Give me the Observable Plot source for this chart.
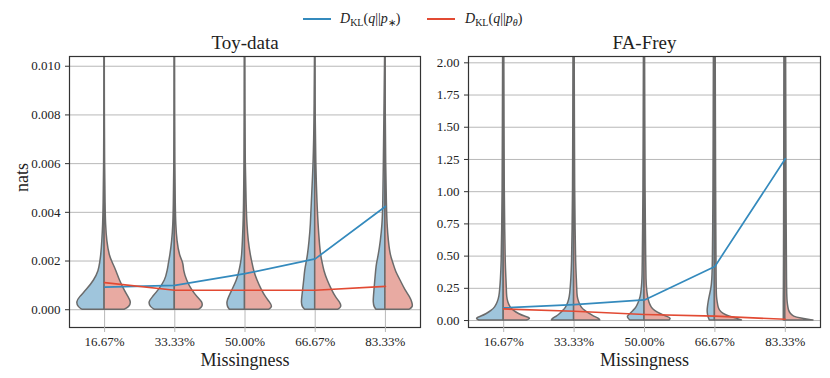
<!DOCTYPE html>
<html><head><meta charset="utf-8">
<script src="https://cdn.jsdelivr.net/npm/d3@7"></script>
<script src="https://cdn.jsdelivr.net/npm/@observablehq/plot@0.6"></script>
<style>
body{margin:0;background:#fff;font-family:"Liberation Serif",serif;}
#wrap{position:relative;width:830px;height:378px;overflow:hidden;}
#wrap svg{position:absolute;top:0;}
#wrap svg text{font-family:"Liberation Serif",serif !important;}
.leg-line{position:absolute;height:2px;width:28px;}
.leg-text{position:absolute;font-size:14px;line-height:14px;white-space:nowrap;color:#222;}
.leg-text sub{font-size:10px;font-style:normal;vertical-align:-3px;line-height:0;}
</style></head>
<body><div id="wrap"></div>
<script>
// ---------- data ----------
const categories = ["16.67%", "33.33%", "50.00%", "66.67%", "83.33%"];
const seriesNames = ["D_KL(q||p*)", "D_KL(q||pθ)"];

// Toy-data: mean lines
const toyMeanStar  = [0.00093, 0.00100, 0.00148, 0.00209, 0.00424];
const toyMeanTheta = [0.00111, 0.00080, 0.00080, 0.00080, 0.00096];
// FA-Frey: mean lines
const freyMeanStar  = [0.099, 0.124, 0.160, 0.420, 1.255];
const freyMeanTheta = [0.090, 0.072, 0.047, 0.034, 0.010];

// density profiles (relative, max ~1) read at these value levels
const toyLevels = [0, 0.0001, 0.0003, 0.0005, 0.0008, 0.0012, 0.0016, 0.0019, 0.0022, 0.0028, 0.0035, 0.0042, 0.006, 0.008, 0.0105];
const toyStarDensity = [
  [0.79,0.93,1.00,0.89,0.64,0.36,0.20,0.16,0.12,0.08,0.05,0.035,0.015,0.008,0.004],
  [0.71,0.86,0.93,0.79,0.57,0.33,0.25,0.21,0.16,0.09,0.05,0.035,0.015,0.008,0.004],
  [0.54,0.61,0.64,0.57,0.45,0.28,0.19,0.14,0.10,0.075,0.05,0.035,0.015,0.008,0.004],
  [0.36,0.45,0.48,0.46,0.43,0.39,0.36,0.31,0.26,0.20,0.15,0.13,0.05,0.02,0.006],
  [0.32,0.39,0.42,0.41,0.39,0.36,0.33,0.30,0.24,0.16,0.10,0.075,0.055,0.035,0.01]
];
const toyThetaDensity = [
  [0.71,0.89,0.96,0.86,0.71,0.54,0.42,0.30,0.18,0.09,0.05,0.035,0.015,0.008,0.004],
  [0.86,1.00,1.00,0.82,0.61,0.43,0.32,0.32,0.18,0.09,0.05,0.035,0.015,0.008,0.004],
  [0.86,1.00,0.89,0.75,0.60,0.44,0.32,0.27,0.21,0.13,0.085,0.06,0.025,0.012,0.004],
  [0.82,0.96,0.89,0.74,0.60,0.44,0.32,0.27,0.21,0.16,0.12,0.085,0.035,0.015,0.004],
  [0.86,1.00,0.96,0.89,0.71,0.54,0.36,0.29,0.19,0.12,0.075,0.055,0.025,0.012,0.004]
];
const freyLevels = [0, 0.015, 0.03, 0.05, 0.075, 0.10, 0.14, 0.18, 0.25, 0.31, 0.44, 0.7, 1.0, 1.5, 2.05];
const freyStarDensity = [
  [0.86,1.00,0.79,0.60,0.43,0.30,0.21,0.15,0.12,0.10,0.07,0.054,0.036,0.029,0.021],
  [0.79,0.75,0.61,0.50,0.38,0.28,0.20,0.15,0.12,0.10,0.07,0.054,0.036,0.029,0.021],
  [0.50,0.57,0.61,0.50,0.39,0.28,0.20,0.13,0.093,0.071,0.061,0.05,0.036,0.029,0.021],
  [0.18,0.21,0.23,0.25,0.26,0.25,0.225,0.19,0.12,0.09,0.071,0.061,0.05,0.043,0.036],
  [0.054,0.054,0.054,0.054,0.054,0.054,0.054,0.054,0.05,0.05,0.046,0.043,0.039,0.036,0.032]
];
const freyThetaDensity = [
  [0.82,1.00,0.75,0.54,0.36,0.24,0.16,0.12,0.11,0.10,0.07,0.054,0.036,0.029,0.021],
  [0.93,0.89,0.71,0.56,0.39,0.26,0.18,0.12,0.11,0.10,0.07,0.054,0.036,0.029,0.021],
  [0.89,0.96,0.79,0.57,0.36,0.25,0.17,0.125,0.086,0.071,0.061,0.05,0.036,0.029,0.021],
  [0.96,0.79,0.50,0.30,0.18,0.13,0.10,0.071,0.064,0.061,0.057,0.05,0.043,0.036,0.029],
  [1.00,0.54,0.29,0.20,0.13,0.11,0.082,0.071,0.064,0.061,0.057,0.05,0.043,0.036,0.029]
];
const toyTicks  = [0, 0.002, 0.004, 0.006, 0.008, 0.010];
const freyTicks = [0, 0.25, 0.5, 0.75, 1.0, 1.25, 1.5, 1.75, 2.0];

// ---------- styling ----------
const BLUE = "#348ABD", RED = "#E24A33";
const BLUE_FILL = "#9fc5dc", RED_FILL = "#e8aaa2";
const EDGE = "#6b6b6b", GRID = "#b8b8b8";
const FONT = "Liberation Serif, serif";
const HALF = 0.4; // half violin width in category units

function violinRows(levels, dens, side) {
  const rows = [];
  dens.forEach((arr, i) => arr.forEach((d, j) =>
    rows.push({id: side + "-" + i, c: i, v: levels[j], xo: i + side * d * HALF})));
  return rows;
}

function panel({title, levels, starD, thetaD, meanStar, meanTheta, ticks, fmt, domain, width, marginLeft, marginRight, showYLabel}) {
  const idx = categories.map((_, i) => i);
  const marks = [
    Plot.gridY(ticks, {stroke: GRID, strokeOpacity: 1, strokeWidth: 1}),
    Plot.gridX(idx, {stroke: GRID, strokeOpacity: 1, strokeWidth: 1}),
    Plot.areaX(violinRows(levels, starD, -1), {y: "v", x1: "c", x2: "xo", z: "id", fill: BLUE_FILL, stroke: EDGE, strokeWidth: 1.5, curve: "basis", clip: true}),
    Plot.areaX(violinRows(levels, thetaD, 1), {y: "v", x1: "c", x2: "xo", z: "id", fill: RED_FILL, stroke: EDGE, strokeWidth: 1.5, curve: "basis", clip: true}),
    Plot.line(meanStar, {x: (d, i) => i, y: d => d, stroke: BLUE, strokeWidth: 1.7}),
    Plot.line(meanTheta, {x: (d, i) => i, y: d => d, stroke: RED, strokeWidth: 1.7}),
    Plot.frame({stroke: "#333", strokeWidth: 1.2}),
    Plot.axisX(idx, {tickSize: 5, tickFormat: () => "", stroke: GRID, label: null}),
    Plot.axisX(idx, {tickSize: 0, tickPadding: 9, tickFormat: i => categories[i], label: null, fontSize: 13}),
    Plot.axisY(ticks, {tickSize: 4, tickFormat: () => "", stroke: "#333", label: null}),
    Plot.axisY(ticks, {tickSize: 0, tickPadding: 9, tickFormat: d3.format(fmt), label: null, fontSize: 13}),
    Plot.text([title], {frameAnchor: "top", lineAnchor: "bottom", dy: -8, fontSize: 19}),
    Plot.text(["Missingness"], {frameAnchor: "bottom", lineAnchor: "bottom", dy: 38, fontSize: 18})
  ];
  if (showYLabel) marks.push(Plot.text(["nats"], {frameAnchor: "left", lineAnchor: "bottom", rotate: -90, dx: -42, fontSize: 18}));
  const svg = Plot.plot({
    width, height: 378,
    marginLeft, marginRight, marginTop: 56, marginBottom: 51,
    x: {type: "linear", domain: [-0.5, 4.5]},
    y: {domain},
    style: {fontFamily: FONT, fontSize: "13px", background: "transparent", color: "#222", overflow: "visible"},
    marks
  });
  d3.select(svg).selectAll("g").attr("font-family", FONT);
  return svg;
}

const wrap = document.getElementById("wrap");
const left = panel({title: "Toy-data", levels: toyLevels, starD: toyStarDensity, thetaD: toyThetaDensity,
  meanStar: toyMeanStar, meanTheta: toyMeanTheta, ticks: toyTicks, fmt: ".3f", domain: [-0.00073, 0.0104],
  width: 420, marginLeft: 69, marginRight: 0, showYLabel: true});
left.style.left = "0px";
wrap.appendChild(left);
const right = panel({title: "FA-Frey", levels: freyLevels, starD: freyStarDensity, thetaD: freyThetaDensity,
  meanStar: freyMeanStar, meanTheta: freyMeanTheta, ticks: freyTicks, fmt: ".2f", domain: [-0.054, 2.049],
  width: 410, marginLeft: 48, marginRight: 10, showYLabel: false});
right.style.left = "420px";
wrap.appendChild(right);

// legend
const legend = [
  {color: BLUE, lx: 303, tx: 340, html: "<i>D</i><sub>KL</sub>(<i>q</i>||<i>p</i><sub>∗</sub>)"},
  {color: RED, lx: 427, tx: 465, html: "<i>D</i><sub>KL</sub>(<i>q</i>||<i>p</i><sub><i>θ</i></sub>)"}
];
legend.forEach((l, i) => {
  const ln = document.createElement("div");
  ln.className = "leg-line"; ln.style.left = l.lx + "px"; ln.style.top = "18px"; ln.style.background = l.color;
  wrap.appendChild(ln);
  const tx = document.createElement("div");
  tx.className = "leg-text"; tx.style.left = l.tx + "px"; tx.style.top = "12px"; tx.innerHTML = l.html;
  tx.title = seriesNames[i];
  wrap.appendChild(tx);
});
</script></body></html>
